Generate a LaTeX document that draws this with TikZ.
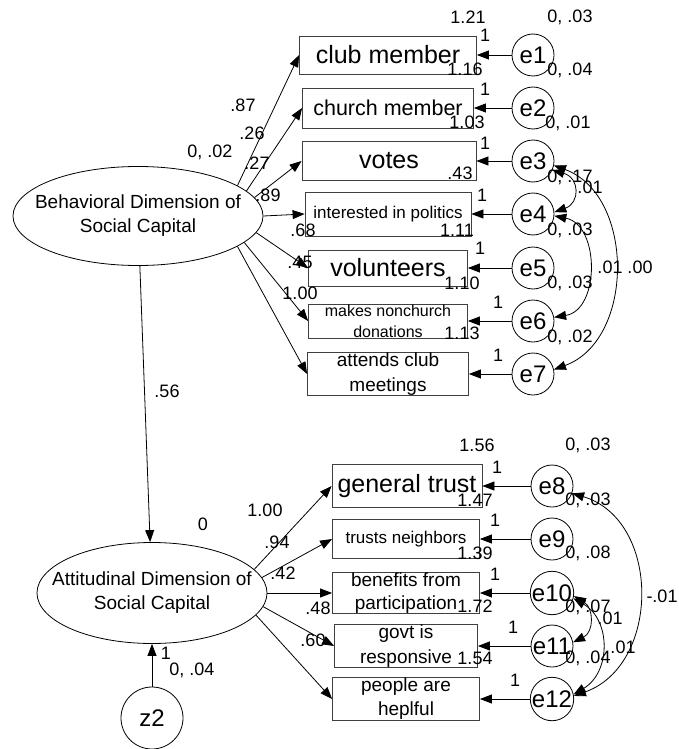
\documentclass[tikz,border=0pt]{standalone}
\usepackage{fontspec}
\setmainfont{Liberation Sans}
\usetikzlibrary{shapes.geometric,arrows.meta}

\tikzset{
  obs/.style={draw=black!75, rectangle, inner sep=0pt, align=center},
  err/.style={draw, circle, inner sep=0pt, minimum size=42pt, font=\fontsize{24}{26}\selectfont},
  lat/.style={draw, ellipse, inner sep=0pt},
  lattext/.style={align=center, font=\fontsize{19}{24}\selectfont},
  num/.style={inner sep=0pt, font=\fontsize{18}{20}\selectfont},
}

\begin{document}
\begin{tikzpicture}[x=1pt, y=-1pt, >={Triangle[length=12pt,width=9pt]}, line width=0.8pt]
\useasboundingbox (0,0) rectangle (678,749);

%latent variables
\node[lat, minimum width=250pt, minimum height=99pt] (beh) at (138,216) {};
\node[lattext] (behtext) at (beh) {Behavioral Dimension of\\Social Capital};
\node[lat, minimum width=230pt, minimum height=101pt] (att) at (152,593) {};
\node[lattext] (atttext) at (att) {Attitudinal Dimension of\\Social Capital};
\node[err, minimum size=62pt] (z2) at (152,718) {z2};

%observed, behavioral
\node[obs, minimum width=177pt, minimum height=38pt, font=\fontsize{25}{28}\selectfont] (club) at (388,55) {club member};
\node[obs, minimum width=171pt, minimum height=40pt, font=\fontsize{21.5}{24}\selectfont] (church) at (388,108) {church member};
\node[obs, minimum width=174pt, minimum height=39pt, font=\fontsize{25}{28}\selectfont] (votes) at (389,161) {votes};
\node[obs, minimum width=166pt, minimum height=44pt, font=\fontsize{17}{20}\selectfont] (polit) at (388,214) {interested in politics};
\node[obs, minimum width=159pt, minimum height=36pt, font=\fontsize{25}{28}\selectfont] (volun) at (388,268) {volunteers};
\node[obs, minimum width=159pt, minimum height=34pt, font=\fontsize{16}{21}\selectfont] (donat) at (388,321) {makes nonchurch\\donations};
\node[obs, minimum width=161pt, minimum height=42pt, font=\fontsize{19}{25}\selectfont] (meet) at (388,374) {attends club\\meetings};

%observed, attitudinal
\node[obs, minimum width=150pt, minimum height=43pt, font=\fontsize{25}{28}\selectfont] (gtrust) at (407,486) {general trust};
\node[obs, minimum width=147pt, minimum height=39pt, font=\fontsize{17}{20}\selectfont] (ntrust) at (406,539) {trusts neighbors};
\node[obs, minimum width=147pt, minimum height=40pt, font=\fontsize{19}{23}\selectfont] (benef) at (406,593) {benefits from\\participation};
\node[obs, minimum width=143pt, minimum height=41pt, font=\fontsize{19}{25}\selectfont] (govt) at (406,646) {govt is\\responsive};
\node[obs, minimum width=147pt, minimum height=43pt, font=\fontsize{19}{24}\selectfont] (helpf) at (406,699) {people are\\heplful};

%error terms
\node[err] (e1) at (533,55) {e1};
\node[err] (e2) at (533,108) {e2};
\node[err] (e3) at (533,161) {e3};
\node[err] (e4) at (533,214) {e4};
\node[err] (e5) at (533,268) {e5};
\node[err] (e6) at (533,321) {e6};
\node[err] (e7) at (533,374) {e7};
\node[err] (e8) at (552,486) {e8};
\node[err] (e9) at (552,539) {e9};
\node[err] (e10) at (552,593) {e10};
\node[err] (e11) at (552,646) {e11};
\node[err] (e12) at (552,699) {e12};

%loadings
\draw [->] (beh.17)--(club.west);
\draw [->] (beh.13)--(church.west);
\draw [->] (beh.9)--(votes.west);
\draw [->] (beh.0)--(polit.west);
\draw [->] (beh.-8)--(volun.west);
\draw [->] (beh.-14)--(donat.west);
\draw [->] (beh.-17)--(meet.west);
\draw [->] (att.13)--(gtrust.west);
\draw [->] (att.8)--(ntrust.west);
\draw [->] (att.0)--(benef.west);
\draw [->] (att.-7)--(govt.west);
\draw [->] (att.-12)--(helpf.west);
\draw [->] (beh)--(att);	%structural path
\draw [->] (z2)--(att);		%disturbance

%errors to indicators
\draw [->] (e1)--(club);   \draw [->] (e2)--(church); \draw [->] (e3)--(votes);
\draw [->] (e4)--(polit);  \draw [->] (e5)--(volun);  \draw [->] (e6)--(donat);
\draw [->] (e7)--(meet);   \draw [->] (e8)--(gtrust); \draw [->] (e9)--(ntrust);
\draw [->] (e10)--(benef); \draw [->] (e11)--(govt);  \draw [->] (e12)--(helpf);

%covariances
\draw [<->] (e3.-25) .. controls (580,178) and (580,203) .. (e4.5);	%e3--e4
\draw [<->] (e4.-5) .. controls (600,225) and (600,310) .. (e6.10);	%e4--e6
\draw [<->] (e3.-12) .. controls (635,195) and (635,340) .. (e7.12);	%e3--e7
\draw [<->] (e8.-20) .. controls (661,520) and (661,665) .. (e12.8);	%e8--e12
\draw [<->] (e10.-8) .. controls (594,608) and (594,632) .. (e11.10);	%e10--e11
\draw [<->] (e10.-14) .. controls (611,620) and (611,672) .. (e12.12);	%e10--e12

%loading labels
\node[num] (w1) at (243,105) {.87};
\node[num] (w2) at (252,133) {.26};
\node[num] (w3) at (257,163) {.27};
\node[num] (w4) at (268,195) {.89};
\node[num] (w5) at (303,230) {.68};
\node[num] (w6) at (300,262) {.45};
\node[num] (w7) at (300,293) {1.00};
\node[num] (w8) at (265,510) {1.00};
\node[num] (w9) at (277,542) {.94};
\node[num] (w10) at (283,573) {.42};
\node[num] (w11) at (318,608) {.48};
\node[num] (w12) at (313,640) {.60};
\node[num] (w13) at (167,391) {.56};

%intercept labels
\node[num] (i1) at (468,17) {1.21};
\node[num] (i2) at (465,69) {1.16};
\node[num] (i3) at (467,122) {1.03};
\node[num] (i4) at (460,173) {.43};
\node[num] (i5) at (457,230) {1.11};
\node[num] (i6) at (462,283) {1.10};
\node[num] (i7) at (462,333) {1.13};
\node[num] (i8) at (477,445) {1.56};
\node[num] (i9) at (475,500) {1.47};
\node[num] (i10) at (475,553) {1.39};
\node[num] (i11) at (475,606) {1.72};
\node[num] (i12) at (475,658) {1.54};

%fixed paths
\node[num] (f1) at (485,35) {1};
\node[num] (f2) at (485,89) {1};
\node[num] (f3) at (485,143) {1};
\node[num] (f4) at (482,195) {1};
\node[num] (f5) at (480,248) {1};
\node[num] (f6) at (498,302) {1};
\node[num] (f7) at (498,355) {1};
\node[num] (f8) at (497,467) {1};
\node[num] (f9) at (495,520) {1};
\node[num] (f10) at (495,574) {1};
\node[num] (f11) at (513,627) {1};
\node[num] (f12) at (515,680) {1};
\node[num] (f13) at (166,653) {1};

%means and variances
\node[num] (v1) at (570,17) {0, .03};
\node[num] (v2) at (570,70) {0, .04};
\node[num] (v3) at (568,123) {0, .01};
\node[num] (v4) at (570,177) {0, .17};
\node[num] (v5) at (570,230) {0, .03};
\node[num] (v6) at (570,283) {0, .03};
\node[num] (v7) at (570,337) {0, .02};
\node[num] (v8) at (588,445) {0, .03};
\node[num] (v9) at (588,500) {0, .03};
\node[num] (v10) at (588,553) {0, .08};
\node[num] (v11) at (588,607) {0, .07};
\node[num] (v12) at (588,658) {0, .04};
\node[num] (vb) at (210,152) {0, .02};
\node[num] (va) at (203,524) {0};
\node[num] (vz) at (192,670) {0, .04};

%covariance labels
\node[num] (c1) at (590,187) {.01};
\node[num] (c2) at (610,267) {.01};
\node[num] (c3) at (640,267) {.00};
\node[num] (c4) at (662,596) {-.01};
\node[num] (c5) at (610,618) {.01};
\node[num] (c6) at (623,647) {.01};

\end{tikzpicture}
\end{document}
